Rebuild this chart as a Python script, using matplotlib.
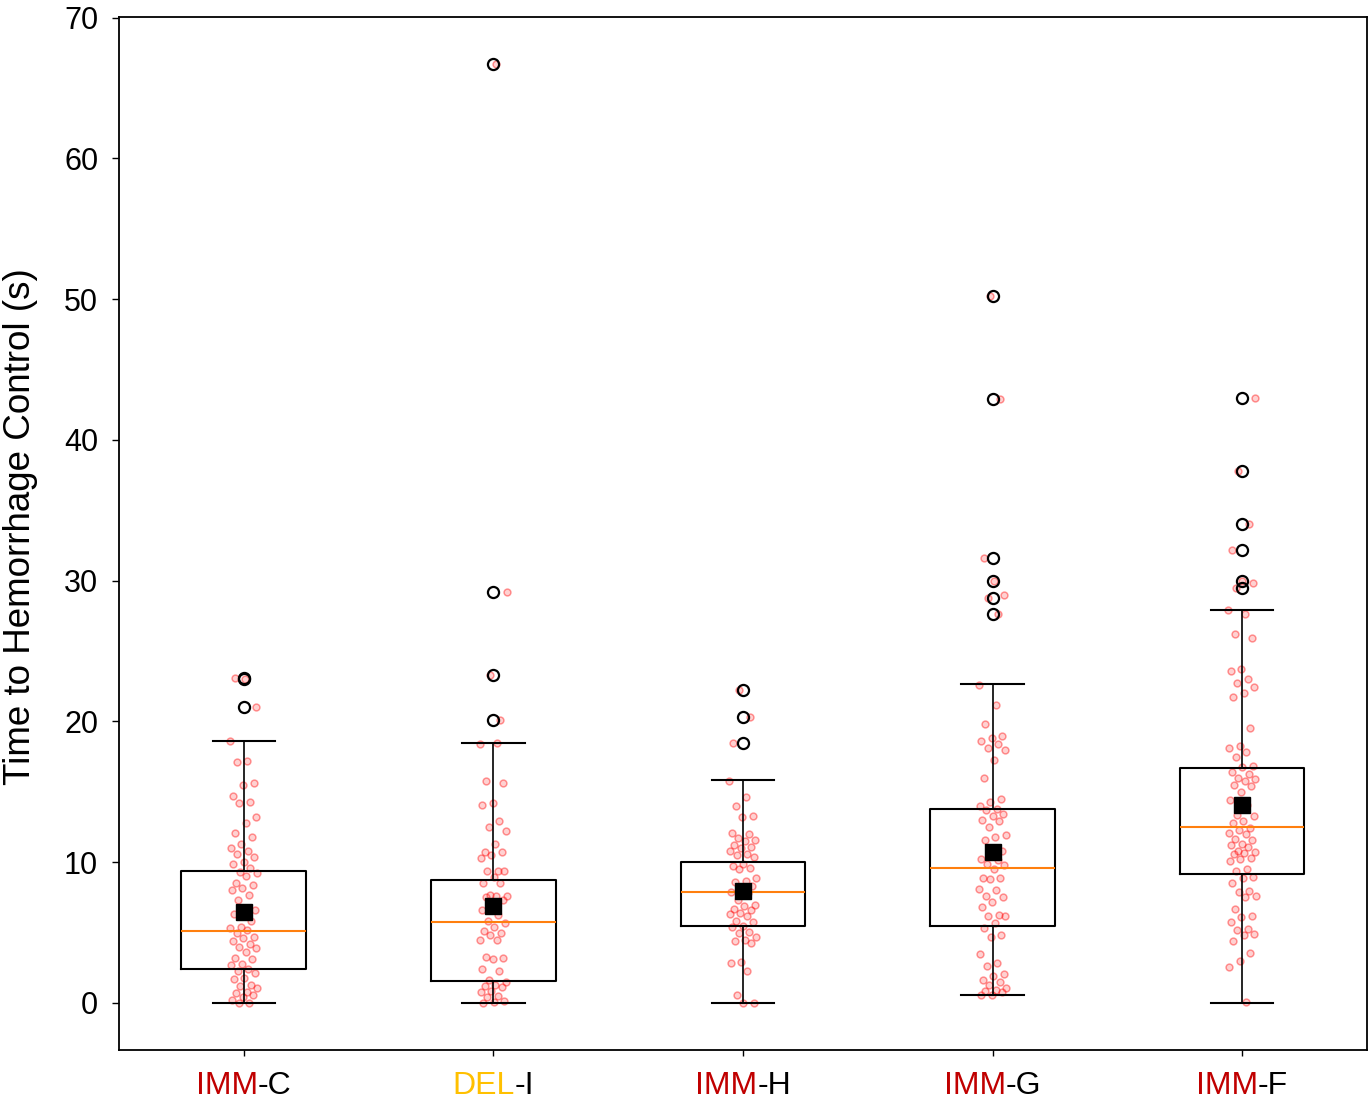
import numpy as np
import matplotlib
matplotlib.use("Agg")
import matplotlib.pyplot as plt

plt.rcParams["font.family"] = ["Liberation Sans", "DejaVu Sans"]

# group labels: coloured prefix + black suffix
prefixes = ["IMM", "DEL", "IMM", "IMM", "IMM"]
suffixes = ["-C", "-I", "-H", "-G", "-F"]
prefix_colors = ["#C00000", "#FFC000", "#C00000", "#C00000", "#C00000"]

# box statistics (seconds)
medians = [5.1, 5.75, 7.9, 9.6, 12.5]
q1s = [2.45, 1.55, 5.45, 5.45, 9.15]
q3s = [9.4, 8.75, 10.0, 13.75, 16.7]
whis_lo = [0.0, 0.0, 0.0, 0.55, 0.0]
whis_hi = [18.6, 18.45, 15.85, 22.65, 27.95]
means = [6.45, 6.9, 7.95, 10.7, 14.05]
fliers = [
    [21.0, 23.0, 23.1],
    [20.1, 23.3, 29.2, 66.7],
    [18.5, 20.3, 22.2],
    [27.6, 28.8, 30.0, 31.6, 42.9, 50.2],
    [29.5, 30.0, 32.2, 34.0, 37.8, 43.0],
]

# individual trials
imm_c = [18.6, 17.2, 17.1, 15.6, 15.5, 14.7, 14.3, 14.2, 13.2, 12.8, 12.1, 11.8, 11.3,
         11.0, 10.8, 10.6, 10.4, 10.0, 9.9, 9.6, 9.3, 9.2, 9.0, 8.5, 8.4, 8.2, 8.0, 7.7,
         7.3, 6.6, 6.5, 6.3, 5.8, 5.4, 5.3, 5.2, 5.0, 4.7, 4.6, 4.4, 4.2, 4.0, 3.9, 3.6,
         3.2, 3.1, 2.8, 2.7, 2.4, 2.3, 2.1, 1.8, 1.7, 1.3, 1.2, 1.1, 0.8, 0.7, 0.6, 0.4,
         0.2, 0.0, 0.0, 21.0, 23.0, 23.1]
del_i = [18.4, 18.45, 15.8, 15.6, 14.2, 14.1, 12.9, 12.5, 12.2, 11.3, 10.75, 10.7, 10.5,
         10.3, 9.4, 9.35, 9.4, 8.97, 8.55, 8.5, 7.7, 7.6, 7.6, 7.55, 7.3, 7.0, 6.6, 6.25,
         5.8, 5.7, 5.4, 5.1, 5.0, 4.8, 4.5, 4.45, 3.3, 3.2, 3.1, 2.4, 2.3, 1.6, 1.5, 1.25,
         1.2, 1.15, 0.85, 0.8, 0.5, 0.4, 0.15, 0.05, 0.0, 20.1, 23.3, 29.2, 66.7]
imm_h = [15.8, 14.6, 14.0, 13.3, 13.2, 12.1, 12.0, 11.75, 11.6, 11.5, 11.2, 11.1, 11.0,
         10.8, 10.6, 10.5, 10.4, 9.85, 9.75, 9.6, 9.5, 8.9, 8.65, 8.6, 8.3, 8.2, 7.9, 7.8,
         7.3, 6.95, 6.9, 6.7, 6.6, 6.4, 6.3, 6.2, 5.85, 5.75, 5.5, 5.4, 5.05, 4.95, 4.7,
         4.45, 4.4, 4.25, 2.9, 2.85, 2.3, 0.55, 0.0, 0.0, 18.5, 20.3, 22.2]
imm_g = [22.6, 21.2, 19.85, 18.95, 18.8, 18.6, 18.4, 18.1, 18.0, 17.25, 16.0, 14.5, 14.3,
         14.0, 13.8, 13.7, 13.4, 13.3, 13.0, 12.9, 12.5, 11.95, 11.8, 11.6, 10.8, 10.6,
         10.25, 10.15, 9.9, 9.8, 9.5, 8.9, 8.85, 8.8, 8.1, 8.0, 7.6, 7.5, 7.2, 6.85, 6.25,
         6.2, 6.15, 5.65, 5.3, 4.85, 4.7, 3.5, 2.85, 2.6, 2.05, 1.95, 1.6, 1.5, 1.3, 1.1,
         0.95, 0.85, 0.75, 0.6, 0.55, 27.6, 28.8, 29.0, 30.0, 31.6, 42.9, 50.2]
imm_f = [27.95, 27.65, 26.2, 25.9, 23.7, 23.55, 23.05, 22.75, 22.45, 22.0, 21.75, 19.5,
         18.25, 18.1, 17.8, 17.5, 16.85, 16.75, 16.4, 16.3, 16.0, 15.9, 15.8, 15.5, 15.4,
         15.0, 14.4, 14.1, 13.35, 13.3, 12.9, 12.8, 12.4, 12.3, 12.1, 12.0, 11.65, 11.55,
         11.3, 11.2, 11.1, 10.8, 10.7, 10.65, 10.6, 10.3, 10.2, 10.1, 9.5, 9.4, 8.95, 8.9,
         8.55, 7.95, 7.9, 7.6, 7.5, 6.65, 6.2, 6.1, 5.75, 5.25, 5.2, 4.9, 4.8, 4.4, 3.55,
         2.95, 2.55, 0.1, 29.5, 29.8, 30.0, 32.2, 34.0, 37.8, 43.0]
groups = [imm_c, del_i, imm_h, imm_g, imm_f]

positions = np.arange(1, len(groups) + 1)
dpi = 100
fig = plt.figure(figsize=(13.71, 11.04), dpi=dpi)
ax = fig.add_axes([0.0868, 0.0489, 0.9102, 0.9357])

stats = []
for i in range(len(groups)):
    stats.append(dict(med=medians[i], q1=q1s[i], q3=q3s[i], whislo=whis_lo[i],
                      whishi=whis_hi[i], mean=means[i], fliers=fliers[i], label=""))

ax.bxp(stats, positions=positions, widths=0.5, showmeans=True,
       boxprops=dict(color="black", linewidth=1.5),
       whiskerprops=dict(color="black", linewidth=1.2),
       capprops=dict(color="black", linewidth=1.5),
       medianprops=dict(color="#FF7F0E", linewidth=1.5),
       meanprops=dict(marker="s", markerfacecolor="black", markeredgecolor="black",
                      markersize=11.5),
       flierprops=dict(marker="o", markerfacecolor="none", markeredgecolor="black",
                       markersize=8, markeredgewidth=1.6),
       zorder=3)

# jittered points, drawn under the boxes
for pos, vals in zip(positions, groups):
    idx = np.arange(len(vals))
    offs = ((idx * 0.618034) % 1 - 0.5) * 0.11
    ax.scatter(pos + offs, vals, s=24, facecolor=(1, 0, 0, 0.18),
               edgecolor=(1, 0, 0, 0.4), linewidths=1.1, zorder=2)

ax.set_xlim(0.5, 5.5)
ax.set_ylim(-3.34, 70.04)
ax.set_yticks(np.arange(0, 71, 10))
ax.tick_params(axis="y", labelsize=22, length=5, width=1, pad=10)
ax.tick_params(axis="x", length=4, width=1)
ax.set_xticks(positions)
ax.set_xticklabels([""] * len(positions))
for s in ax.spines.values():
    s.set_linewidth(1.3)

ax.set_ylabel("Time to Hemorrhage Control (s)", fontsize=26.5)
ax.yaxis.set_label_coords(-0.065, 0.507)

# two-coloured tick labels
fig.canvas.draw()
renderer = fig.canvas.get_renderer()
for pos, pre, suf, col in zip(positions, prefixes, suffixes, prefix_colors):
    t1 = ax.annotate(pre, xy=(pos, 0), xycoords=ax.get_xaxis_transform(),
                     xytext=(0, -15), textcoords="offset points",
                     ha="left", va="top", color=col, fontsize=23)
    t2 = ax.annotate(suf, xy=(1, 0), xycoords=t1, ha="left", va="bottom",
                     color="black", fontsize=23)
    w = t1.get_window_extent(renderer).width + t2.get_window_extent(renderer).width
    t1.set_position((-w / 2 * 72 / dpi, -15))

fig.savefig("out.png", dpi=dpi)
